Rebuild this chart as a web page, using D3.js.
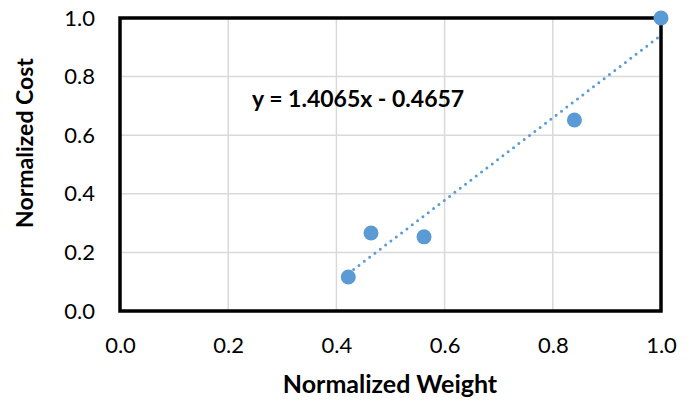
<!DOCTYPE html>
<html>
<head>
<meta charset="utf-8">
<script src="https://cdn.jsdelivr.net/npm/d3@7"></script>
<style>
  body { margin: 0; background: #fff; }
  #chart { width: 693px; height: 401px; }
  text { font-family: Lato, "Open Sans", sans-serif; fill: #000; }
  .tick text { font-size: 22px; }
  .axisTitle { font-size: 23px; font-weight: bold; }
</style>
</head>
<body>
<div id="chart"></div>
<script>
// data
const weight = [0.422, 0.464, 0.562, 0.840, 1.0];
const cost = [0.116, 0.266, 0.253, 0.652, 1.0];
const xTicks = [0, 0.2, 0.4, 0.6, 0.8, 1.0];
const yTicks = [0, 0.2, 0.4, 0.6, 0.8, 1.0];
const slope = 1.4065;
const intercept = -0.4657;
const eqLabel = 'y = 1.4065x - 0.4657';

const node = document.getElementById('chart');
const width = 693;
const height = 401;
const paddingLeft = 120;
const paddingRight = 32;
const paddingTop = 18;
const paddingBottom = 90;
const color = '#5b9bd5';

const xScale = d3.scaleLinear().domain([0, 1]).range([paddingLeft, width - paddingRight]);
const yScale = d3.scaleLinear().domain([0, 1]).range([height - paddingBottom, paddingTop]);

const svg = d3.select(node).append('svg')
    .attr('width', width)
    .attr('height', height);

// grid
const grid = svg.append('g').attr('class', 'grid');
grid.selectAll('.vgrid')
    .data(xTicks)
    .enter()
    .append('line')
    .attr('x1', (d) => xScale(d))
    .attr('x2', (d) => xScale(d))
    .attr('y1', yScale(0))
    .attr('y2', yScale(1))
    .attr('stroke', '#d9d9d9')
    .attr('stroke-width', 1.5);
grid.selectAll('.hgrid')
    .data(yTicks)
    .enter()
    .append('line')
    .attr('x1', xScale(0))
    .attr('x2', xScale(1))
    .attr('y1', (d) => yScale(d))
    .attr('y2', (d) => yScale(d))
    .attr('stroke', '#d9d9d9')
    .attr('stroke-width', 1.5);

// axes (labels only)
const xAxis = d3.axisBottom(xScale)
    .tickValues(xTicks)
    .tickSize(0)
    .tickPadding(26)
    .tickFormat(d3.format('.1f'));
const yAxis = d3.axisLeft(yScale)
    .tickValues(yTicks)
    .tickSize(0)
    .tickPadding(25)
    .tickFormat(d3.format('.1f'));

svg.append('g')
    .attr('transform', `translate(0,${yScale(0)})`)
    .call(xAxis)
    .call((g) => g.select('.domain').remove());
svg.append('g')
    .attr('transform', `translate(${xScale(0)},0)`)
    .call(yAxis)
    .call((g) => g.select('.domain').remove());
svg.selectAll('.tick text').attr('font-family', null).attr('font-size', null);

// plot frame
svg.append('rect')
    .attr('x', xScale(0))
    .attr('y', yScale(1))
    .attr('width', xScale(1) - xScale(0))
    .attr('height', yScale(0) - yScale(1))
    .attr('fill', 'none')
    .attr('stroke', '#000')
    .attr('stroke-width', 3.5);

// trendline
const xMin = d3.min(weight);
const xMax = d3.max(weight);
svg.append('line')
    .attr('x1', xScale(xMin))
    .attr('y1', yScale(slope * xMin + intercept))
    .attr('x2', xScale(xMax))
    .attr('y2', yScale(slope * xMax + intercept))
    .attr('stroke', color)
    .attr('stroke-width', 3)
    .attr('stroke-linecap', 'round')
    .attr('stroke-dasharray', '0 6.7');

// points
svg.selectAll('.pt')
    .data(weight)
    .enter()
    .append('circle')
    .attr('class', 'pt')
    .attr('cx', (d) => xScale(d))
    .attr('cy', (d, i) => yScale(cost[i]))
    .attr('r', 7.5)
    .attr('fill', color);

// equation
svg.append('text')
    .attr('class', 'axisTitle')
    .attr('x', 252)
    .attr('y', 107)
    .text(eqLabel);

// axis titles
svg.append('text')
    .attr('class', 'axisTitle')
    .attr('text-anchor', 'middle')
    .style('font-size', '25px')
    .attr('x', 390)
    .attr('y', 393)
    .text('Normalized Weight');
svg.append('text')
    .attr('class', 'axisTitle')
    .attr('text-anchor', 'middle')
    .style('font-size', '23px')
    .attr('transform', 'translate(33,143) rotate(-90)')
    .text('Normalized Cost');
</script>
</body>
</html>
